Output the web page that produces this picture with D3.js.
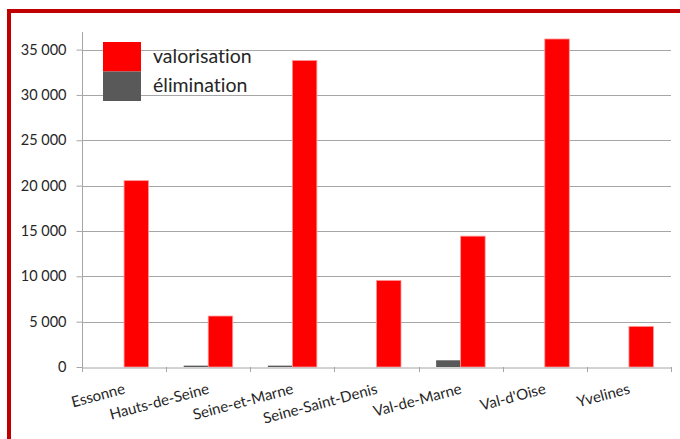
<!DOCTYPE html>
<html><head><meta charset="utf-8">
<script src="https://cdn.jsdelivr.net/npm/d3@7"></script>
<style>
body{margin:0;background:#fff;}
svg{display:block;}
text{font-variant-ligatures:none;font-feature-settings:"liga" 0;}
</style></head>
<body>
<svg id="c" width="680" height="439"></svg>
<script>
const categories = ["Essonne","Hauts-de-Seine","Seine-et-Marne","Seine-Saint-Denis","Val-de-Marne","Val-d'Oise","Yvelines"];
const seriesNames = ["valorisation","élimination"];
const valorisation = [20550, 5620, 33800, 9550, 14430, 36170, 4480];
const elimination = [0, 150, 150, 0, 740, 0, 0];
const yTicks = [0,5000,10000,15000,20000,25000,30000,35000];
const colors = {"valorisation":"#ff0000","élimination":"#595959"};

(function(){
const svg = d3.select("#c");
const W=680,H=439;
const mLeft=82, mRight=671, mTop=32, mBottom=367;
const font = "Lato, 'Open Sans', sans-serif";

// frame
svg.append("rect").attr("x",9).attr("y",11).attr("width",W).attr("height",H).attr("fill","none").attr("stroke","#c00000").attr("stroke-width",4);

const y = d3.scaleLinear().domain([0,36940]).range([mBottom,mTop]);
const x0 = d3.scaleBand().domain(categories).range([mLeft,mRight]).paddingInner(0).paddingOuter(0);
const x1 = d3.scaleBand().domain(["élimination","valorisation"]).range([0,x0.bandwidth()]).paddingInner(0).paddingOuter(0.7167);

// gridlines
svg.append("g").selectAll("line").data(yTicks.slice(1)).join("line")
  .attr("x1",mLeft).attr("x2",mRight).attr("y1",d=>Math.round(y(d))+0.5).attr("y2",d=>Math.round(y(d))+0.5)
  .attr("stroke","#a6a6a6").attr("stroke-width",1);

// y axis
const yAxis = d3.axisLeft(y).tickValues(yTicks).tickSize(6).tickPadding(10)
  .tickFormat(d=>d3.format(",")(d).replace(/,/g," "));
const gy = svg.append("g").attr("transform",`translate(${mLeft+0.5},0)`).call(yAxis);
gy.select(".domain").attr("stroke","#a6a6a6").attr("d",`M0,${mTop}V${mBottom}`);
gy.selectAll(".tick line").attr("stroke","#a6a6a6");
gy.selectAll(".tick text").attr("font-family",font).attr("font-size","14.5px").attr("fill","#262626");

// bars
const data = categories.map((c,i)=>({cat:c, vals:[{k:"élimination",v:elimination[i]},{k:"valorisation",v:valorisation[i]}]}));
const g = svg.append("g");
g.selectAll("g").data(data).join("g").attr("transform",d=>`translate(${x0(d.cat)},0)`)
  .selectAll("rect").data(d=>d.vals.filter(e=>e.v>0)).join("rect")
  .attr("x",d=>x1(d.k)).attr("width",x1.bandwidth())
  .attr("y",d=>y(d.v)).attr("height",d=>mBottom-y(d.v))
  .attr("fill",d=>colors[d.k])
  .attr("stroke",d=>d.k==="valorisation"?"#ff9a9a":"none").attr("stroke-width",0.8);

// x axis
const xAxis = d3.axisBottom(x0).tickSize(0).tickFormat("");
const gx = svg.append("g").attr("transform",`translate(0,${mBottom+0.5})`).call(xAxis);
gx.select(".domain").attr("stroke","#a6a6a6");
const bounds = categories.map(c=>x0(c)).concat([mRight]);
svg.append("g").selectAll("line").data(bounds).join("line")
  .attr("x1",d=>Math.round(d)+0.5).attr("x2",d=>Math.round(d)+0.5).attr("y1",mBottom).attr("y2",mBottom+5)
  .attr("stroke","#a6a6a6");
svg.append("g").selectAll("text").data(categories).join("text")
  .attr("transform",d=>`translate(${x0(d)+x0.bandwidth()/2-1},${mBottom+16}) rotate(-15)`)
  .attr("text-anchor","end").attr("dy","0.71em")
  .attr("font-family",font).attr("font-size","15px").attr("fill","#262626")
  .text(d=>d);

// legend
const lg = svg.append("g");
seriesNames.forEach((s,i)=>{
  lg.append("rect").attr("x",103).attr("y",42+i*29.5).attr("width",38).attr("height",29.5).attr("fill",colors[s]);
  lg.append("text").attr("x",153).attr("y",62.5+i*29.5).attr("font-family",font).attr("font-size","19.5px").attr("fill","#262626").text(s);
});
})();
</script>
</body></html>
